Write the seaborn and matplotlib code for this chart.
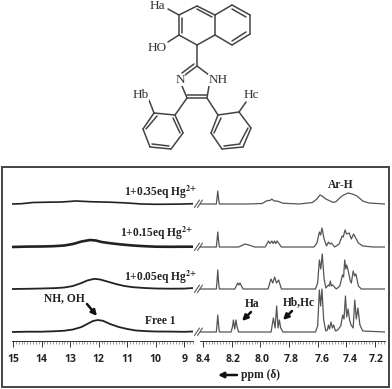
'''
Stacked NMR titration spectra with the structure drawn above
'''

# Import the following
import pandas as pd
import matplotlib.pyplot as plt
from matplotlib.transforms import ScaledTranslation
import seaborn as sns

# Trace names, bottom to top
traces = ['Free 1', '1+0.05eq', '1+0.15eq', '1+0.35eq']
baselines = [9, 52, 94, 137]

# Downfield part, ppm and height
free_left_ppm = [15.05, 14.5, 14, 13.5, 13.2, 12.9, 12.6, 12.4, 12.2, 12.03, 11.85, 11.6, 11.3, 11, 10.7, 10.3, 10, 9.5, 9, 8.7]
free_left_int = [0, 0.3, 0.3, 0.8, 1.3, 2.5, 5, 8, 11, 12, 11.2, 8, 5, 3, 1.5, 0.8, 0.5, 0.4, 0.2, 0.5]
eq05_left_ppm = [15.05, 14.5, 14, 13.5, 13.2, 12.9, 12.6, 12.4, 12.15, 11.95, 11.7, 11.4, 11.1, 10.8, 10.4, 10, 9.5, 9, 8.7]
eq05_left_int = [0, 0.2, 0.5, 0.9, 1.5, 3, 6, 8.5, 10.2, 9.5, 7.5, 5, 3, 1.8, 1, 0.5, 0.3, 0.4, 1]
eq15_left_ppm = [15.05, 14.5, 14, 13.6, 13.2, 12.9, 12.6, 12.3, 12.1, 11.9, 11.6, 11.2, 10.8, 10.4, 10, 9.5, 9, 8.7]
eq15_left_int = [0, 0.4, 0.5, 0.8, 1.5, 3, 5.5, 7, 6.5, 5, 3.8, 2.5, 1.5, 0.8, 0.3, 0.2, 0.3, 0.3]
eq35_left_ppm = [15.05, 14.7, 14.3, 13.8, 13.3, 12.8, 12.2, 11.6, 11, 10.5, 10, 9.5, 9, 8.7]
eq35_left_int = [0, 0.3, 1.5, 1.8, 2, 3, 2.2, 1.8, 1, 0, -0.3, -0.2, 0, 0.3]

# Aromatic part, ppm and height
free_right_ppm = [8.42, 8.307, 8.302, 8.297, 8.292, 8.286, 8.204, 8.193, 8.188, 8.179, 8.170, 8.162, 8.152, 7.925, 7.909, 7.897, 7.886, 7.876, 7.867, 7.858, 7.842,
                  7.615, 7.600, 7.588, 7.579, 7.570, 7.558, 7.543, 7.532, 7.525, 7.517, 7.507, 7.497, 7.488, 7.476, 7.460, 7.439, 7.425, 7.416, 7.406, 7.397, 7.388, 7.377, 7.367, 7.352, 7.341, 7.330, 7.319, 7.305, 7.285, 7.13]
free_right_int = [0, 0, 8, 17, 8, 0, 0, 6, 12, 3, 12, 5, 0, 0, 14, 4, 26, 4, 12, 4, 0,
                  0, 6, 42, 26, 43, 12, 1, 2, 7, 3, 10, 4, 7, 1, 2, 6, 17, 13, 36, 15, 23, 12, 7, 4, 32, 13, 24, 7, 1, 0]
eq05_right_ppm = [8.42, 8.307, 8.302, 8.297, 8.292, 8.286, 8.178, 8.158, 8.150, 8.142, 8.121, 7.946, 7.926, 7.913, 7.900, 7.887, 7.872, 7.853,
                  7.615, 7.600, 7.588, 7.578, 7.568, 7.555, 7.543, 7.525, 7.518, 7.512, 7.504, 7.495, 7.470, 7.445, 7.427, 7.419, 7.411, 7.403, 7.397, 7.388, 7.372, 7.365, 7.352, 7.342, 7.333, 7.316, 7.295, 7.13]
eq05_right_int = [0, 0, 8, 19, 8, 0, 0, 6, 4, 6, 0, 0, 10, 6, 12, 6, 9, 0,
                  0, 6, 29, 20, 35, 10, 1, 4, 3, 8, 3, 4, 0, 3, 14, 12, 29, 20, 24, 19, 8, 6, 18, 13, 15, 3, 0, 0]
eq15_right_ppm = [8.42, 8.307, 8.302, 8.297, 8.292, 8.286, 8.152, 8.121, 8.107, 8.080, 8.039, 7.966, 7.943, 7.932, 7.920, 7.910, 7.901, 7.892, 7.883, 7.853,
                  7.625, 7.605, 7.588, 7.579, 7.570, 7.555, 7.538, 7.525, 7.515, 7.504, 7.481, 7.450, 7.429, 7.421, 7.409, 7.398, 7.380, 7.365, 7.349, 7.338, 7.316, 7.285, 7.212, 7.13]
eq15_right_int = [0, 0, 7, 15, 7, 0, 0, 2, 3, 2, 0, 0, 6, 3.5, 6, 3.5, 6, 3.5, 6, 0,
                  0, 4, 15, 12, 19, 8, 1, 5, 3, 4, 0, 3, 11, 10, 17, 13, 14, 8, 13, 10, 4, 1, 0, 0]
eq35_right_ppm = [8.42, 8.307, 8.302, 8.297, 8.292, 8.286, 8.09, 7.987, 7.951, 7.932, 7.920, 7.904, 7.884, 7.842, 7.729, 7.636, 7.605, 7.584, 7.569, 7.543, 7.491, 7.470, 7.439, 7.419, 7.388, 7.357, 7.326, 7.285, 7.243, 7.13]
eq35_right_int = [0, 0, 6, 13, 6, 0, 0, 0.5, 3.5, 3.5, 5, 3, 3, 0.8, 0, 1.5, 5, 9, 8, 5, 1.5, 2.5, 7, 9, 11, 10, 8, 3, 1, 0]

# Molecule bonds in picture pixels, x1, y1, x2, y2
bonds = [(179, 15, 197, 6), (197, 6, 215, 15), (215, 15, 215, 35), (215, 35, 197, 45), (197, 45, 179, 35), (179, 35, 179, 15),
         (215, 15, 232, 5), (232, 5, 250, 15), (250, 15, 250, 34), (250, 34, 232, 45), (232, 45, 215, 35),
         (182, 18, 182, 33), (197, 9, 212, 17), (232, 9, 246, 17), (246, 32, 232, 41),
         (179, 15, 168, 9), (179, 35, 168, 42), (197, 45, 197, 66),
         (197, 66, 185, 75), (194, 64, 182, 73), (182, 86, 187, 98), (187, 98, 207, 98), (187, 95, 207, 95), (207, 98, 209, 86), (209, 75, 197, 66),
         (187, 98, 175, 115), (207, 98, 218, 115),
         (175, 115, 154, 113), (154, 113, 143, 129), (143, 129, 150, 147), (150, 147, 171, 149), (171, 149, 183, 133), (183, 133, 175, 115),
         (157, 116, 146, 129), (152, 144, 169, 146), (180, 133, 173, 118), (154, 113, 149, 100),
         (218, 115, 239, 112), (239, 112, 251, 128), (251, 128, 243, 147), (243, 147, 222, 149), (222, 149, 211, 133), (211, 133, 218, 115),
         (248, 128, 240, 143), (224, 146, 240, 144), (214, 133, 221, 118), (239, 112, 246, 102)]

# Axis ticks
left_ticks = [15, 14, 13, 12, 11, 10, 9]
right_ticks = [8.4, 8.2, 8.0, 7.8, 7.6, 7.4, 7.2]

# The printed right labels do not sit exactly under their ticks, shift in pixels
right_label_shift = [0, 1.5, 2, 2, 4.5, 4, 1]

# Build long tables for seaborn
left_sets = [(free_left_ppm, free_left_int), (eq05_left_ppm, eq05_left_int), (eq15_left_ppm, eq15_left_int), (eq35_left_ppm, eq35_left_int)]
right_sets = [(free_right_ppm, free_right_int), (eq05_right_ppm, eq05_right_int), (eq15_right_ppm, eq15_right_int), (eq35_right_ppm, eq35_right_int)]

def build_table(sets):
    frames = []
    for name, base, (ppm, height) in zip(traces, baselines, sets):
        frames.append(pd.DataFrame({'ppm': ppm, 'y': [base + h for h in height], 'trace': name}))
    return pd.concat(frames)

sns.set_theme(style='white')
plt.rcParams['mathtext.fontset'] = 'stix'

W, H = 392, 389
fig = plt.figure(figsize=(W / 100, H / 100), dpi=100)
top, bottom = 172, 341

def axes_at(x0, x1):
    return fig.add_axes([x0 / W, 1 - bottom / H, (x1 - x0) / W, (bottom - top) / H])

widths = {'Free 1': 1.3, '1+0.05eq': 1.3, '1+0.15eq': 1.9, '1+0.35eq': 1.2}

# Left part of the spectrum
ax_left = axes_at(11.5, 193)
table = build_table(left_sets)
for name in traces:
    sns.lineplot(data=table[table['trace'] == name], x='ppm', y='y', color='#222222',
                 linewidth=widths[name], estimator=None, sort=False, ax=ax_left)
ax_left.set_xlim(15.05, 8.7)
ax_left.set_xticks(left_ticks)
ax_left.set_xticks([15 - i * 0.1 for i in range(64)], minor=True)

# Right part of the spectrum
ax_right = axes_at(200, 385)
table = build_table(right_sets)
sns.lineplot(data=table, x='ppm', y='y', units='trace', color='#555555', linewidth=0.9,
             estimator=None, sort=False, ax=ax_right)
ax_right.set_xlim(8.421, 7.13)
ax_right.set_xticks(right_ticks)
ax_right.set_xticks([8.4 - i * 0.02 for i in range(64)], minor=True)

for ax in [ax_left, ax_right]:
    ax.set_ylim(0, bottom - top)
    ax.patch.set_alpha(0)
    ax.set_xlabel('')
    ax.set_ylabel('')
    ax.set_yticks([])
    sns.despine(ax=ax, left=True, top=True, right=True)
    ax.spines['bottom'].set_color('#333333')
    ax.spines['bottom'].set_linewidth(0.7)
    ax.tick_params(axis='x', which='major', direction='out', bottom=True, length=4.5, width=0.7, color='#333333', pad=4.5)
    ax.tick_params(axis='x', which='minor', direction='out', bottom=True, length=2.2, width=0.4, color='#555555')
    labels = [str(t) for t in ax.get_xticks()]
    ax.set_xticklabels(labels, fontsize=7.5, fontweight='bold', family='Open Sans', color='#222222')

for label, dx in zip(ax_right.get_xticklabels(), right_label_shift):
    label.set_transform(label.get_transform() + ScaledTranslation(dx / 100, 0, fig.dpi_scale_trans))

# Overlay in picture pixels for frame, structure and notes
over = fig.add_axes([0, 0, 1, 1])
over.set_xlim(0, W)
over.set_ylim(H, 0)
over.axis('off')
over.add_patch(plt.Rectangle((2, 167), 387, 219.5, fill=False, edgecolor='#444444', linewidth=1.4))

for x1, y1, x2, y2 in bonds:
    over.plot([x1, x2], [y1, y2], color='#444444', linewidth=1.1, solid_capstyle='round')

serif = 'Liberation Serif'
for txt, x, y in [('Ha', 157, 6), ('HO', 157, 48), ('N', 180, 80), ('NH', 218, 80), ('Hb', 141, 95), ('Hc', 251, 95)]:
    over.text(x, y, txt, family=serif, fontsize=9.5, color='#333333', ha='center', va='center',
              bbox=dict(facecolor='white', edgecolor='none', pad=0.2))

# Break marks between the two parts
for base in baselines:
    y = bottom - base
    for dx in [0, 3]:
        over.plot([194.5 + dx, 199.5 + dx], [y + 3.5, y - 4], color='#444444', linewidth=0.7)

# Notes on the spectra
hg = r'Hg$^{\mathbf{2{+}}}$'
notes = [('1+0.35eq ' + hg, 197, 192, 'right'), ('1+0.15eq ' + hg, 193, 233, 'right'), ('1+0.05eq ' + hg, 197, 277, 'right'),
         ('Free 1', 160, 321, 'center'), ('NH, OH', 64, 298, 'center'), ('Ar-H', 341, 185, 'center'),
         ('Ha', 252, 304, 'center'), ('Hb,Hc', 299, 302, 'center'), ('ppm (δ)', 261, 375, 'center')]
for txt, x, y, ha in notes:
    over.text(x, y, txt, family=serif, fontweight='bold', fontsize=8.3, color='#222222', ha=ha, va='center')

arrows = [((87, 304), (97, 316)), ((251, 312), (242, 321)), ((292, 311), (283, 320)), ((237, 375), (218, 375))]
for start, end in arrows:
    over.annotate('', xy=end, xytext=start,
                  arrowprops=dict(arrowstyle='-|>', color='#111111', linewidth=1.8, mutation_scale=8, shrinkA=0, shrinkB=0))

fig.savefig('out.png', dpi=100)
